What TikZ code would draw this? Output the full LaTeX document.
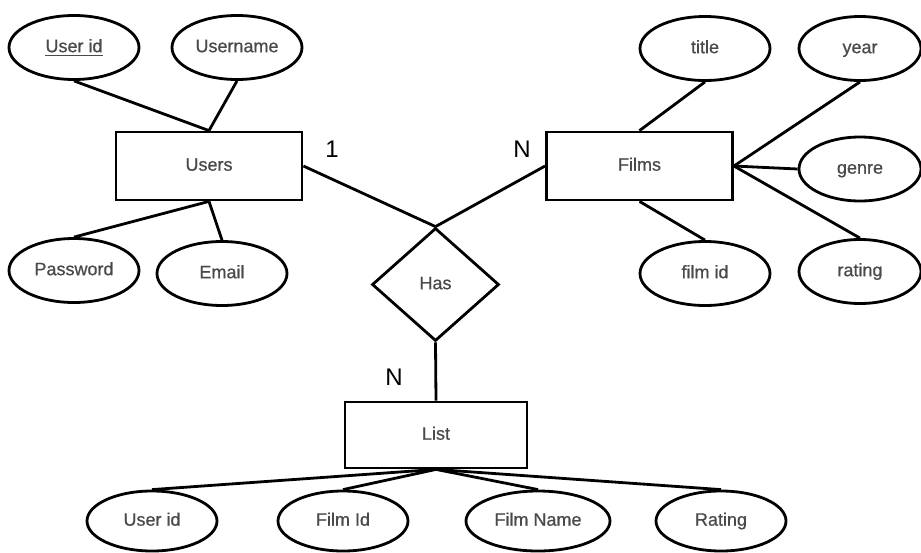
\documentclass[tikz,border=0pt]{standalone}
\usepackage{fontspec}
\setmainfont{Liberation Sans}
\newfontfamily\labelfont[FakeBold=0.7]{Liberation Sans}
\usetikzlibrary{shapes.geometric}
\definecolor{labelgray}{HTML}{4A4A4A}
\begin{document}
\begin{tikzpicture}[x=0.5pt,y=-0.5pt,
  every node/.style={font=\labelfont\fontsize{9}{10}\selectfont, text=labelgray,
                     text height=6.6pt, text depth=1.9pt},
  attr/.style={draw=black, line width=1.4pt, ellipse, inner sep=0pt,
               minimum width=65pt, minimum height=32pt},
  lowattr/.style={attr, minimum height=30pt},
  entity/.style={draw=black, line width=1.4pt, rectangle, inner sep=0pt,
                 minimum width=93pt, minimum height=34pt},
  relation/.style={draw=black, line width=1.4pt, diamond, inner sep=0pt,
                   minimum width=63.5pt, minimum height=56.5pt},
  card/.style={font=\fontsize{12}{13}\selectfont, text=black},
  link/.style={draw=black, line width=1.4pt}]
\useasboundingbox (0,0) rectangle (921,552);

% Entities and relationship
\node[entity] (users) at (209,166) {Users};
\node[entity] (films) at (639.5,166) {Films};
\node[entity, minimum width=91pt, minimum height=33pt] (list) at (436,435) {List};
\node[relation] (has) at (435.5,284.5) {Has};

% Users attributes
\node[attr] (uid)   at (74,47.5)   {\underline{User id}};
\node[attr] (uname) at (237,47.5)  {Username};
\node[attr] (pwd)   at (74,270.5)  {Password};
\node[attr] (email) at (222,273.5) {Email};

% Films attributes
\node[attr] (title)  at (705,48.5)  {title};
\node[attr, minimum width=61pt] (year)   at (860,48.5)  {year};
\node[attr, minimum width=61pt] (genre)  at (860,169)   {genre};
\node[attr] (filmid) at (705,273.5) {film id};
\node[attr, minimum width=61pt] (rating) at (860,271.5) {rating};

% List attributes
\node[lowattr] (luid)   at (152,521) {User id};
\node[lowattr] (lfid)   at (343,521) {Film Id};
\node[lowattr, minimum width=72pt] (lfname) at (538,521) {Film Name};
\node[lowattr] (lrate)  at (721,521) {Rating};

% Attribute links
\draw[link] (uid.south) -- (users.north);
\draw[link] (uname.south) -- (users.north);
\draw[link] (pwd.north) -- (users.south);
\draw[link] (email.north) -- (users.south);

\draw[link] (title.south) -- (films.north);
\draw[link] (year.south) -- (films.east);
\draw[link] (genre.west) -- (films.east);
\draw[link] (rating.north) -- (films.east);
\draw[link] (filmid.north) -- (films.south);

\draw[link] (list.south) -- (luid.north);
\draw[link] (list.south) -- (lfid.north);
\draw[link] (list.south) -- (lfname.north);
\draw[link] (list.south) -- (lrate.north);

% Relationship links
\draw[link] (users.east) -- (has.north);
\draw[link] (films.west) -- (has.north);
\draw[link] (has.south) -- (list.north);

% Cardinalities
\node[card] (c1) at (332,153) {1};
\node[card] (c2) at (522,153) {N};
\node[card] (c3) at (394,381) {N};
\end{tikzpicture}
\end{document}
